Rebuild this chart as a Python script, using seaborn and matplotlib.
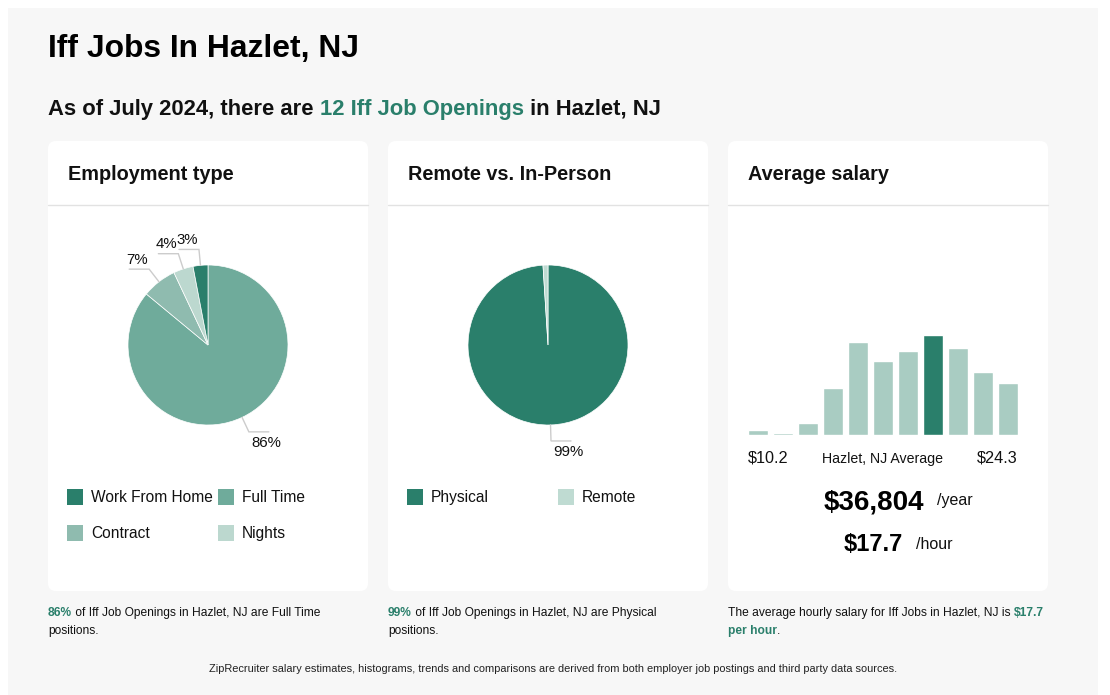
import matplotlib
matplotlib.use("Agg")
import matplotlib.pyplot as plt
import matplotlib.transforms as mtransforms
from matplotlib.patches import FancyBboxPatch, Rectangle
from matplotlib.lines import Line2D
import numpy as np
import pandas as pd
import seaborn as sns

# ---------------- data ----------------
title_text = "Iff Jobs In Hazlet, NJ"
job_count = 12
emp_title = "Employment type"
emp_labels = ["Work From Home", "Full Time", "Contract", "Nights"]
emp_values = [3, 86, 7, 4]
emp_pie_order = ["Full Time", "Contract", "Nights", "Work From Home"]
remote_title = "Remote vs. In-Person"
remote_labels = ["Physical", "Remote"]
remote_values = [99, 1]
salary_title = "Average salary"
hist_bins = ["b1", "b2", "b3", "b4", "b5", "b6", "b7", "b8", "b9", "b10", "b11"]
hist_values = [5, 2, 12, 47, 93, 74, 84, 100, 87, 63, 52]
hist_highlight = "b8"
salary_low = "$10.2"
salary_high = "$24.3"
salary_year = "$36,804"
salary_hour = "$17.7"

# ---------------- style ----------------
sns.set_style("white")
plt.rcParams["font.family"] = ["Liberation Sans", "DejaVu Sans"]

DARK = "#2a7f6b"
emp_colors = {"Work From Home": DARK, "Full Time": "#6fab9b",
              "Contract": "#8fbbaf", "Nights": "#bcd8cf"}
remote_colors = {"Physical": DARK, "Remote": "#bfdbd2"}
HIST_LIGHT = "#a9ccc2"
TXT = "#111111"

W, H = 1110, 695
fig = plt.figure(figsize=(W / 100, H / 100), dpi=100)
fig.patch.set_facecolor("white")
PX = mtransforms.Affine2D().scale(1 / W, -1 / H).translate(0, 1) + fig.transFigure
renderer = fig.canvas.get_renderer()


def add_axes_px(x0, y0, x1, y1):
    return fig.add_axes([x0 / W, 1 - y1 / H, (x1 - x0) / W, (y1 - y0) / H])


def text_width(s, size, weight):
    t1 = fig.text(0, 0, s + "|", fontsize=size, fontweight=weight)
    t2 = fig.text(0, 0, "|", fontsize=size, fontweight=weight)
    w = t1.get_window_extent(renderer).width - t2.get_window_extent(renderer).width
    t1.remove(); t2.remove()
    return w


def rich(x, y, parts, size, va="baseline"):
    for s, weight, color in parts:
        fig.text(x, y, s, transform=PX, fontsize=size, fontweight=weight,
                 color=color, va=va, ha="left")
        x += text_width(s, size, weight)


# background panel
fig.add_artist(Rectangle((8, 8), 1090, 690, transform=PX, facecolor="#f7f7f7",
                         edgecolor="none", zorder=-5))

# cards
cards = [(48, 368), (388, 708), (728, 1048)]
card_titles = [emp_title, remote_title, salary_title]
for (x0, x1), ttl in zip(cards, card_titles):
    fig.add_artist(FancyBboxPatch((x0, 141), x1 - x0, 450, transform=PX,
                                  boxstyle="round,pad=0,rounding_size=8",
                                  facecolor="white", edgecolor="none", zorder=-4))
    fig.add_artist(Line2D([x0, x1], [204.5, 204.5], transform=PX, color="#e2e2e2",
                          lw=1, zorder=-3))
    fig.text(x0 + 20, 179.5, ttl, transform=PX, fontsize=14.3, fontweight="bold",
             color=TXT, va="baseline", ha="left")

# headings
fig.text(48, 57, title_text, transform=PX, fontsize=22.9, fontweight="bold",
         color="black", va="baseline", ha="left")
rich(48, 115, [("As of July 2024, there are ", "bold", TXT),
               (f"{job_count} Iff Job Openings", "bold", DARK),
               (" in Hazlet, NJ", "bold", TXT)], 15.8)


# ---------------- pies ----------------
def draw_pie(ax, labels, values, colors):
    wedges, _ = ax.pie(values, colors=colors, startangle=90, counterclock=False,
                       radius=1.0, wedgeprops=dict(edgecolor="white", linewidth=0.5))
    for w, v in zip(wedges, values):
        if v < 2:
            continue
        ang = np.deg2rad((w.theta1 + w.theta2) / 2)
        c, s = np.cos(ang), np.sin(ang)
        p1 = (c * 1.0, s * 1.0)
        p2 = (c * 1.2, s * 1.2)
        side = 1 if c >= 0 else -1
        p3 = (p2[0] + side * 0.25, p2[1])
        ax.plot([p1[0], p2[0], p3[0]], [p1[1], p2[1], p3[1]], color="#cccccc",
                lw=1, clip_on=False, solid_joinstyle="miter")
        if s < 0:
            ax.text(p3[0] - 0.03, p3[1] - 0.05, f"{v}%", ha="center", va="top",
                    fontsize=10.8, color=TXT, clip_on=False)
        else:
            ax.text(p3[0] + 0.1, p3[1] + 0.03, f"{v}%", ha="center", va="bottom",
                    fontsize=10.8, color=TXT, clip_on=False)
    ax.set_xlim(-1, 1)
    ax.set_ylim(-1, 1)
    ax.set_aspect("equal")
    ax.axis("off")


ax1 = add_axes_px(128, 265, 288, 425)
emp_map = dict(zip(emp_labels, emp_values))
draw_pie(ax1, emp_pie_order, [emp_map[k] for k in emp_pie_order],
         [emp_colors[k] for k in emp_pie_order])

ax2 = add_axes_px(468, 265, 628, 425)
draw_pie(ax2, remote_labels, remote_values, [remote_colors[k] for k in remote_labels])


# legends
def legend_item(x, y, label, color):
    fig.add_artist(Rectangle((x, y - 8), 16, 16, transform=PX, facecolor=color,
                             edgecolor="none", zorder=2))
    fig.text(x + 24, y + 5, label, transform=PX, fontsize=11.2, color=TXT,
             va="baseline", ha="left")


emp_pos = [(67, 497), (218, 497), (67, 533), (218, 533)]
for (x, y), lab in zip(emp_pos, emp_labels):
    legend_item(x, y, lab, emp_colors[lab])
rem_pos = [(407, 497), (558, 497)]
for (x, y), lab in zip(rem_pos, remote_labels):
    legend_item(x, y, lab, remote_colors[lab])

# ---------------- histogram ----------------
ax3 = add_axes_px(748, 335, 1018, 435)
hdf = pd.DataFrame({"bin": hist_bins, "value": hist_values})
pal = {b: (DARK if b == hist_highlight else HIST_LIGHT) for b in hist_bins}
sns.barplot(data=hdf, x="bin", y="value", hue="bin", palette=pal, legend=False,
            ax=ax3, width=0.8, saturation=1, order=hist_bins)
ax3.set_xlim(-0.4, len(hist_bins) - 0.6)
ax3.set_ylim(0, max(hist_values))
ax3.axis("off")

fig.text(748, 463, salary_low, transform=PX, fontsize=11.7, color=TXT,
         va="baseline", ha="left")
fig.text(1018, 463, salary_high, transform=PX, fontsize=11.7, color=TXT,
         va="baseline", ha="right")
fig.text(883, 463, "Hazlet, NJ Average", transform=PX, fontsize=10.2, color=TXT,
         va="baseline", ha="center")

fig.text(824, 509, salary_year, transform=PX, fontsize=20, fontweight="bold",
         color="black", va="baseline", ha="left")
fig.text(937, 505, "/year", transform=PX, fontsize=11.5, color=TXT,
         va="baseline", ha="left")
fig.text(844, 551, salary_hour, transform=PX, fontsize=17, fontweight="bold",
         color="black", va="baseline", ha="left")
fig.text(916, 549, "/hour", transform=PX, fontsize=11.5, color=TXT,
         va="baseline", ha="left")

# ---------------- footnotes ----------------
FN = 8.65
rich(48, 616, [("86%", "bold", DARK),
               (" of Iff Job Openings in Hazlet, NJ are Full Time", "normal", TXT)], FN)
rich(48, 634, [("positions.", "normal", TXT)], FN)
rich(388, 616, [("99%", "bold", DARK),
                (" of Iff Job Openings in Hazlet, NJ are Physical", "normal", TXT)], FN)
rich(388, 634, [("positions.", "normal", TXT)], FN)
rich(728, 616, [("The average hourly salary for Iff Jobs in Hazlet, NJ is ", "normal", TXT),
                (salary_hour, "bold", DARK)], FN)
rich(728, 634, [("per hour", "bold", DARK), (".", "normal", TXT)], FN)

fig.text(553, 672, "ZipRecruiter salary estimates, histograms, trends and comparisons are "
         "derived from both employer job postings and third party data sources.",
         transform=PX, fontsize=7.9, color="#222222", va="baseline", ha="center")

fig.savefig("out.png", dpi=100, facecolor="white")
